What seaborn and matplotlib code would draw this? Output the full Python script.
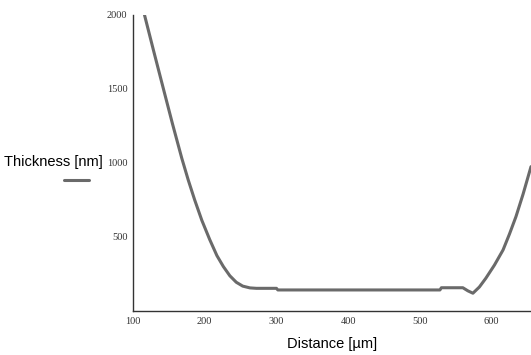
import matplotlib
matplotlib.use("Agg")
import matplotlib.pyplot as plt
import seaborn as sns
import pandas as pd
from matplotlib.lines import Line2D

distance = [116, 129, 142, 155, 168, 177, 186, 196, 207, 217, 226, 235, 244, 253,
            263, 272, 300, 302, 528, 530, 560, 567, 574, 583, 592, 604, 616, 625, 634, 644, 655]
thickness = [2000, 1752, 1508, 1265, 1032, 885, 750, 612, 482, 374, 300, 238, 194, 168,
             156, 153, 153, 142, 142, 157, 157, 136, 120, 162, 221, 310, 412, 520, 637, 790, 975]
xticks = [100, 200, 300, 400, 500, 600]
yticks = [500, 1000, 1500, 2000]

df = pd.DataFrame({"Distance": distance, "Thickness": thickness})

sns.set_style("white")
fig = plt.figure(figsize=(5.31, 3.55), dpi=100)
ax = fig.add_axes([0.2505, 0.124, 0.7495, 0.834])

line_color = "#6a6a6a"
sns.lineplot(data=df, x="Distance", y="Thickness", ax=ax, color=line_color,
             linewidth=2.2, sort=False, legend=False)

ax.set_xlim(100, 655)
ax.set_ylim(0, 2000)
ax.set_xticks(xticks)
ax.set_yticks(yticks)
ax.set_xticklabels([str(t) for t in xticks], fontfamily="Liberation Serif", fontsize=7.5, color="#333333")
ax.set_yticklabels([str(t) for t in yticks], fontfamily="Liberation Serif", fontsize=7.5, color="#333333")

for s in ["top", "right"]:
    ax.spines[s].set_visible(False)
for s in ["left", "bottom"]:
    ax.spines[s].set_color("#333333")
    ax.spines[s].set_linewidth(1.0)

ax.tick_params(axis="x", direction="in", length=5, width=1, color="#333333", pad=4)
ax.tick_params(axis="y", direction="inout", length=6, width=1, color="#333333", pad=1)

ax.set_xlabel("Distance [µm]", fontfamily="Liberation Sans", fontsize=10.5, color="black", labelpad=8)
ax.set_ylabel("")

fig.text(0.1, 1 - 162 / 355, "Thickness [nm]", fontfamily="Liberation Sans", fontsize=10.5,
         ha="center", va="center", color="black")
fig.add_artist(Line2D([64 / 531, 89 / 531], [1 - 180 / 355, 1 - 180 / 355],
                      color=line_color, linewidth=2.2))

fig.savefig("out.png", dpi=100)
